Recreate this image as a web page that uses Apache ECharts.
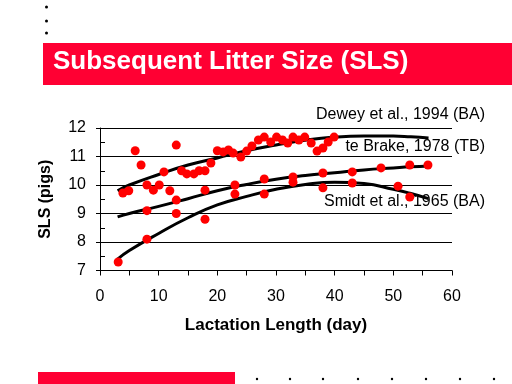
<!DOCTYPE html>
<html>
<head>
<meta charset="utf-8">
<script src="https://cdn.jsdelivr.net/npm/echarts@6/dist/echarts.min.js"></script>
<style>html,body{margin:0;padding:0;background:#fff}#c{width:512px;height:384px}</style>
</head>
<body>
<div id="c"></div>
<script>
// Observed points (lactation length in days, SLS in pigs)
var obsX = [3.9,4.9,6.0,7.0,8.0,9.1,10.1,10.9,11.9,13.0,13.9,14.8,16.0,16.9,17.9,18.9,20.0,21.0,21.9,22.7,24.0,25.0,25.9,27.0,28.0,29.1,30.1,31.1,32.0,32.9,33.9,34.9,36.0,37.0,38.0,38.9,39.9,
            8.0,13.0,17.9,23.0,28.0,32.9,38.0,43.0,47.9,52.8,55.9,
            3.1,8.0,13.0,17.9,23.0,28.0,32.9,38.0,43.0,50.8,52.8];
var obsY = [9.72,9.8,11.2,10.7,10.0,9.82,10.0,10.46,9.8,11.4,10.5,10.39,10.39,10.5,10.5,10.77,11.2,11.16,11.23,11.12,10.98,11.19,11.37,11.58,11.68,11.51,11.68,11.58,11.47,11.68,11.58,11.68,11.47,11.19,11.3,11.51,11.68,
            9.1,9.47,9.82,10.0,10.21,10.28,10.42,10.46,10.6,10.7,10.7,
            7.3,8.1,9.0,8.8,9.68,9.68,10.1,9.9,10.07,9.96,9.58];

// Fitted curves
var curveX = [3,5,10,15,20,25,30,35,40,45,50,53,56];
var deweyY = [9.8,10.0,10.37,10.7,10.95,11.2,11.4,11.57,11.68,11.72,11.72,11.69,11.65];
var brakeY = [8.88,9.0,9.25,9.52,9.8,10.02,10.2,10.33,10.43,10.53,10.6,10.64,10.67];
var smidtY = [7.4,7.7,8.3,8.85,9.3,9.6,9.85,10.02,10.1,10.05,9.85,9.7,9.52];

var curveNames = ['Dewey et al., 1994 (BA)', 'te Brake, 1978 (TB)', 'Smidt et al., 1965 (BA)'];
var titleText = 'Subsequent Litter Size (SLS)';
var xName = 'Lactation Length (day)';
var yName = 'SLS (pigs)';

function pairs(xs, ys){ return xs.map(function(x,i){ return [x, ys[i]]; }); }

var FONT = 'Liberation Sans, Arial, sans-serif';
var chart = echarts.init(document.getElementById('c'), null, {renderer:'canvas'});

var graphics = [
  {type:'rect', shape:{x:43,y:43,width:469,height:42}, style:{fill:'#FF0033'}, silent:true},
  {type:'text', left:53, top:49, style:{text:titleText, fill:'#fff', font:'bold 26px ' + FONT}},
  {type:'rect', shape:{x:38,y:372,width:197,height:12}, style:{fill:'#FF0033'}},
  {type:'text', right:27, top:107, style:{text:curveNames[0], fill:'#000', font:'16px ' + FONT}},
  {type:'text', right:27, top:139, style:{text:curveNames[1], fill:'#000', font:'16px ' + FONT}},
  {type:'text', right:27, top:194, style:{text:curveNames[2], fill:'#000', font:'16px ' + FONT}}
];
[7,21,33].forEach(function(y){ graphics.push({type:'circle', shape:{cx:46.5,cy:y,r:1.5}, style:{fill:'#000'}}); });
[257,290,323,358,392,426,460,494].forEach(function(x){ graphics.push({type:'circle', shape:{cx:x,cy:379,r:1.2}, style:{fill:'#000'}}); });

function lineSeries(ys){
  return {type:'line', data:pairs(curveX, ys), smooth:true, showSymbol:false, symbol:'none',
          lineStyle:{color:'#000', width:3}, z:2, silent:true, xAxisIndex:0, yAxisIndex:0};
}

chart.setOption({
  animation:false,
  backgroundColor:'#fff',
  grid:{left:100, right:60, top:128, bottom:113.5, containLabel:false},
  xAxis:[{
    type:'value', min:0, max:60, interval:5,
    name:xName, nameLocation:'middle', nameGap:46,
    nameTextStyle:{color:'#000', fontFamily:FONT, fontSize:17, fontWeight:'bold'},
    axisLine:{show:true, onZero:false, lineStyle:{color:'#000', width:1}},
    axisTick:{show:true, inside:false, length:5, lineStyle:{color:'#000'}},
    axisLabel:{color:'#000', fontFamily:FONT, fontSize:16, margin:18,
      formatter:function(v){ return v % 10 === 0 ? String(v) : ''; }},
    splitLine:{show:false}
  }],
  yAxis:[{
    type:'value', min:7, max:12, interval:1,
    name:yName, nameLocation:'middle', nameGap:46,
    nameTextStyle:{color:'#000', fontFamily:FONT, fontSize:16, fontWeight:'bold'},
    axisLine:{show:true, onZero:false, lineStyle:{color:'#000', width:1}},
    axisTick:{show:true, inside:false, length:4, lineStyle:{color:'#000'}},
    axisLabel:{color:'#000', fontFamily:FONT, fontSize:16, margin:14},
    splitLine:{show:true, lineStyle:{color:'#000', width:1}}
  },{
    type:'value', min:7, max:12, interval:0.5, position:'left',
    axisLine:{show:false},
    axisTick:{show:true, inside:true, length:5, lineStyle:{color:'#000'}},
    axisLabel:{show:false},
    splitLine:{show:false}
  }],
  series:[
    lineSeries(deweyY),
    lineSeries(brakeY),
    lineSeries(smidtY),
    {type:'scatter', data:pairs(obsX, obsY), symbol:'circle', symbolSize:9,
     itemStyle:{color:'#FF0000', opacity:1}, z:3, xAxisIndex:0, yAxisIndex:0}
  ],
  graphic:graphics
});
</script>
</body>
</html>
